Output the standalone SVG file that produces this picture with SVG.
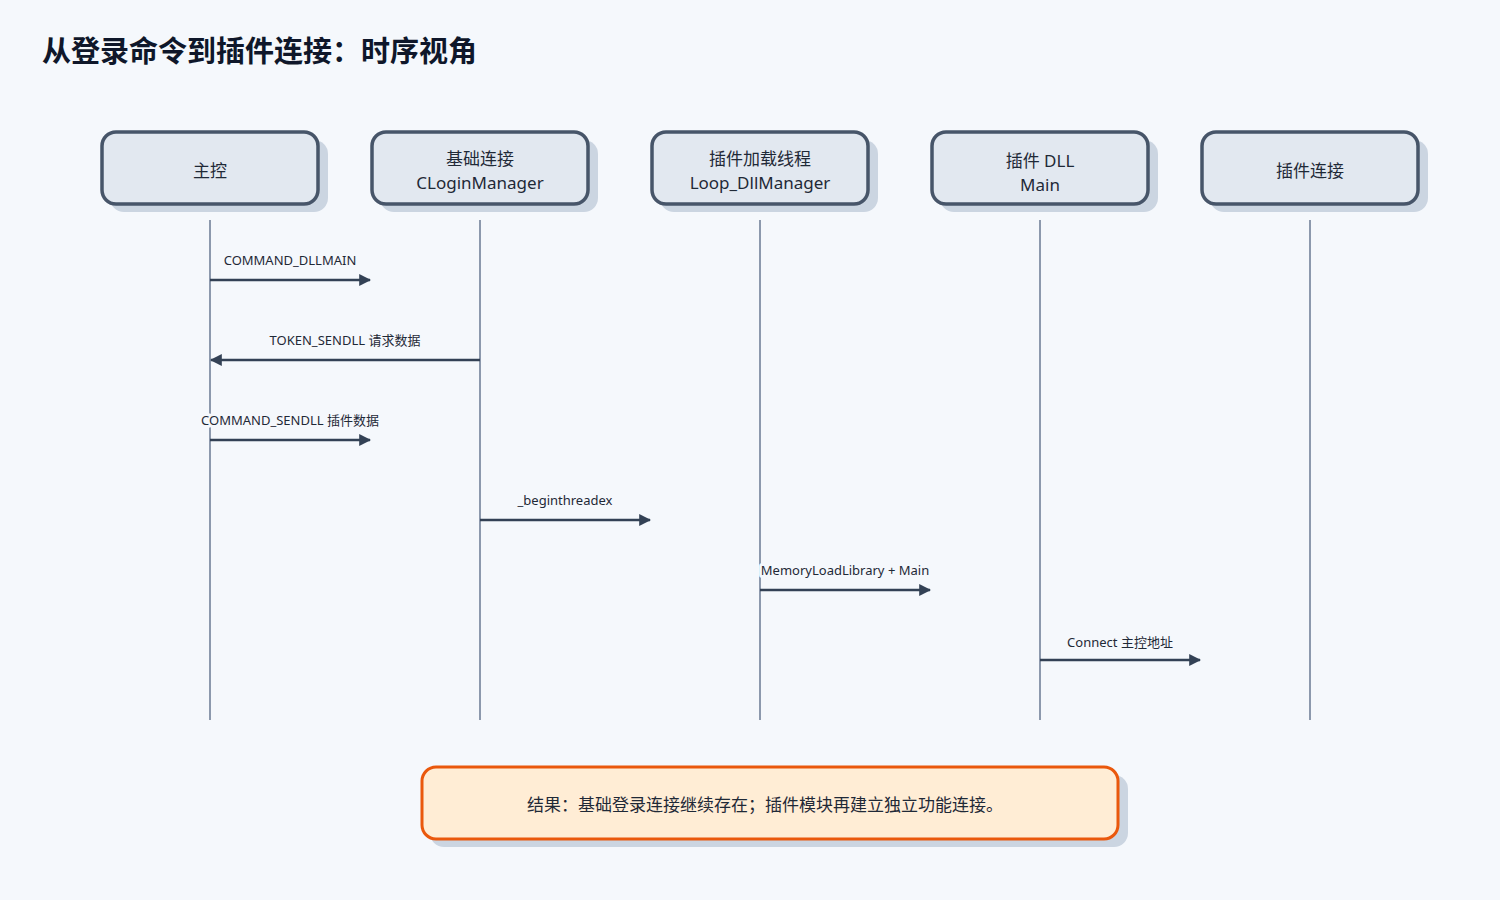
<svg xmlns="http://www.w3.org/2000/svg" width="1500" height="900" viewBox="0 0 1500 900">
<defs>
<marker id="ah" viewBox="0 0 10 10" refX="9" refY="5" markerWidth="12" markerHeight="12" markerUnits="userSpaceOnUse" orient="auto-start-reverse"><path d="M0,0 L10,5 L0,10 z" fill="#334155"/></marker>
<style>
text{font-family:"Noto Sans","Noto Sans CJK SC",sans-serif;fill:#1f2937}
.box{fill:#e2e8f0;stroke:#475569;stroke-width:3.5}
.sh{fill:#cbd5e1}
.life{stroke:#8c99ad;stroke-width:2}
.msg{stroke:#334155;stroke-width:2.5;fill:none;marker-end:url(#ah)}
.nt{font-size:17px;text-anchor:middle}
.ml{font-size:13px;text-anchor:middle;stroke:#f5f8fc;stroke-width:6;paint-order:stroke;stroke-linejoin:round}
</style>
</defs>
<rect width="1500" height="900" fill="#f5f8fc"/>
<text x="42" y="62" style="font-size:29px;font-weight:bold;fill:#0f172a">从登录命令到插件连接：时序视角</text>
<g id="lifelines">
<line class="life" x1="210" y1="220" x2="210" y2="720"/>
<line class="life" x1="480" y1="220" x2="480" y2="720"/>
<line class="life" x1="760" y1="220" x2="760" y2="720"/>
<line class="life" x1="1040" y1="220" x2="1040" y2="720"/>
<line class="life" x1="1310" y1="220" x2="1310" y2="720"/>
</g>
<g id="n1"><rect class="sh" x="110" y="140" width="218" height="72" rx="14"/><rect class="box" x="102" y="132" width="216" height="72" rx="14"/><text class="nt" x="210" y="177">主控</text></g>
<g id="n2"><rect class="sh" x="380" y="140" width="218" height="72" rx="14"/><rect class="box" x="372" y="132" width="216" height="72" rx="14"/><text class="nt" x="480" y="165">基础连接</text><text class="nt" x="480" y="189">CLoginManager</text></g>
<g id="n3"><rect class="sh" x="660" y="140" width="218" height="72" rx="14"/><rect class="box" x="652" y="132" width="216" height="72" rx="14"/><text class="nt" x="760" y="165">插件加载线程</text><text class="nt" x="760" y="189">Loop_DllManager</text></g>
<g id="n4"><rect class="sh" x="940" y="140" width="218" height="72" rx="14"/><rect class="box" x="932" y="132" width="216" height="72" rx="14"/><text class="nt" x="1040" y="167">插件 DLL</text><text class="nt" x="1040" y="191">Main</text></g>
<g id="n5"><rect class="sh" x="1210" y="140" width="218" height="72" rx="14"/><rect class="box" x="1202" y="132" width="216" height="72" rx="14"/><text class="nt" x="1310" y="177">插件连接</text></g>
<g id="connectors">
<path class="msg" d="M210,280 H370"/><text class="ml" x="290" y="265">COMMAND_DLLMAIN</text>
<path class="msg" d="M480,360 H211"/><text class="ml" x="345" y="345">TOKEN_SENDLL 请求数据</text>
<path class="msg" d="M210,440 H370"/><text class="ml" x="290" y="425">COMMAND_SENDLL 插件数据</text>
<path class="msg" d="M480,520 H650"/><text class="ml" x="565" y="505">_beginthreadex</text>
<path class="msg" d="M760,590 H930"/><text class="ml" x="845" y="575">MemoryLoadLibrary + Main</text>
<path class="msg" d="M1040,660 H1200"/><text class="ml" x="1120" y="647">Connect 主控地址</text>
</g>
<g id="result"><rect x="430" y="775" width="698" height="72" rx="14" fill="#cbd5e1"/><rect x="422" y="767" width="696" height="72" rx="14" fill="#ffedd5" stroke="#ea580c" stroke-width="3"/><text x="765" y="811" style="font-size:17px;text-anchor:middle">结果：基础登录连接继续存在；插件模块再建立独立功能连接。</text></g>
</svg>
